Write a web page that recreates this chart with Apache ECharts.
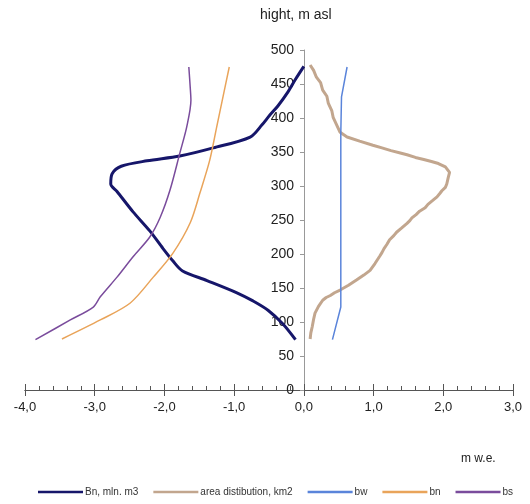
<!DOCTYPE html>
<html><head><meta charset="utf-8">
<script src="https://cdn.jsdelivr.net/npm/echarts@6/dist/echarts.min.js"></script>
<style>html,body{margin:0;padding:0;background:#fff}#c{width:530px;height:504px}</style>
</head><body><div id="c"></div>
<script>
// ---- data ----
var bnMlnX = [0.0, -0.12, -0.23, -0.37, -0.49, -0.6, -0.77, -1.3, -1.78, -2.25, -2.62, -2.75, -2.77, -2.68, -2.45, -2.21, -2.02, -1.88, -1.74, -1.39, -0.96, -0.73, -0.51, -0.3, -0.12];
var bnMlnY = [476, 457, 438, 418, 404, 390, 372, 356, 344, 337, 329, 318, 303, 292, 262, 234, 208, 190, 175, 161, 143, 131, 117, 97, 74];
var areaX = [0.09, 0.14, 0.18, 0.24, 0.27, 0.33, 0.35, 0.40, 0.42, 0.47, 0.52, 0.62, 0.80, 0.99, 1.12, 1.25, 1.37, 1.48, 1.60, 1.72, 1.83, 1.93, 2.03, 2.09, 2.07, 2.05, 2.03, 1.98, 1.95, 1.91, 1.84, 1.78, 1.74, 1.66, 1.61, 1.55, 1.52, 1.48, 1.40, 1.33, 1.29, 1.23, 1.19, 1.15, 1.12, 1.09, 1.02, 0.95, 0.86, 0.76, 0.64, 0.52, 0.44, 0.38, 0.32, 0.27, 0.21, 0.16, 0.14, 0.12, 0.10, 0.09];
var areaY = [478, 470, 460, 452, 441, 432, 422, 411, 401, 390, 379, 372, 366, 360, 356, 352, 349, 346, 342, 339, 336, 333, 328, 320, 312, 303, 298, 293, 289, 284, 278, 273, 268, 263, 258, 253, 249, 245, 238, 232, 227, 221, 214, 208, 202, 197, 186, 176, 169, 162, 154, 147, 143, 139, 136, 132, 123, 113, 104, 93, 84, 75];
var bwX = [0.62, 0.54, 0.53, 0.53, 0.41];
var bwY = [475, 431, 378, 122, 74];
var bnX = [-1.07, -1.16, -1.25, -1.35, -1.49, -1.63, -1.88, -2.16, -2.49, -2.92, -3.47];
var bnY = [475, 431, 387, 338, 290, 246, 201, 166, 128, 103, 75];
var bsX = [-1.65, -1.63, -1.62, -1.68, -1.78, -1.92, -2.06, -2.21, -2.45, -2.68, -2.92, -3.02, -3.35, -3.85];
var bsY = [475, 445, 426, 387, 348, 294, 254, 225, 196, 166, 137, 122, 103, 74];
var xTicks = [-4, -3, -2, -1, 0, 1, 2, 3];
var yTicks = [0, 50, 100, 150, 200, 250, 300, 350, 400, 450, 500];

function zip(a, b) { return a.map(function (v, i) { return [v, b[i]]; }); }
var FONT = "'Liberation Sans Narrow', 'Arial Narrow', 'Liberation Sans', sans-serif";

var chart = echarts.init(document.getElementById('c'));
var xBase = {
  type: 'value', min: xTicks[0], max: xTicks[xTicks.length - 1], interval: 1,
  position: 'bottom', splitLine: { show: false },
  axisLine: { onZero: false, lineStyle: { color: '#555', width: 1 } }
};
chart.setOption({
  animation: false,
  grid: { left: 25, right: 17, top: 50, bottom: 114 },
  xAxis: [
    Object.assign({}, xBase, {
      axisTick: { show: true, length: 6, lineStyle: { color: '#555' } },
      minorTick: { show: false },
      axisLabel: { color: '#222', fontSize: 13, fontFamily: FONT, margin: 11,
        formatter: function (v) { return v.toFixed(1).replace('.', ','); } }
    }),
    Object.assign({}, xBase, {
      axisTick: { show: true, inside: true, length: 6, lineStyle: { color: '#555' } },
      minorTick: { show: true, splitNumber: 5, length: 4, lineStyle: { color: '#555' } },
      axisLabel: { show: false }
    })
  ],
  yAxis: {
    type: 'value', min: yTicks[0], max: yTicks[yTicks.length - 1], interval: 50,
    position: 'left', offset: -279,
    splitLine: { show: false },
    axisLine: { show: true, onZero: false, lineStyle: { color: '#999' } },
    axisTick: { show: true, length: 4, lineStyle: { color: '#999' } },
    axisLabel: { color: '#222', fontSize: 14, fontFamily: FONT, margin: 10 }
  },
  legend: {
    left: 33, top: 482, icon: 'rect', itemWidth: 45, itemHeight: 2.5, itemGap: 15,
    textStyle: { fontSize: 10, fontFamily: FONT, color: '#333', padding: [0, 0, 0, -3] },
    data: ['Bn, mln. m3', 'area distibution, km2', 'bw', 'bn', 'bs']
  },
  graphic: [
    { type: 'text', left: 260, top: 8, style: { text: 'hight, m asl', fontSize: 14, fontFamily: FONT, fill: '#222' } },
    { type: 'text', left: 461, top: 453, style: { text: 'm w.e.', fontSize: 12, fontFamily: FONT, fill: '#222' } }
  ],
  series: [
    { name: 'Bn, mln. m3', type: 'line', data: zip(bnMlnX, bnMlnY), smooth: 0.3, symbol: 'none',
      lineStyle: { color: '#16166a', width: 3 }, itemStyle: { color: '#16166a' } },
    { name: 'area distibution, km2', type: 'line', data: zip(areaX, areaY), smooth: false, symbol: 'none',
      lineStyle: { color: '#c2a68e', width: 3 }, itemStyle: { color: '#c2a68e' } },
    { name: 'bw', type: 'line', data: zip(bwX, bwY), smooth: false, symbol: 'none',
      lineStyle: { color: '#5a84da', width: 1.5 }, itemStyle: { color: '#5a84da' } },
    { name: 'bn', type: 'line', data: zip(bnX, bnY), smooth: 0.3, symbol: 'none',
      lineStyle: { color: '#e9a45a', width: 1.5 }, itemStyle: { color: '#e9a45a' } },
    { name: 'bs', type: 'line', data: zip(bsX, bsY), smooth: 0.3, symbol: 'none',
      lineStyle: { color: '#7a4c9c', width: 1.5 }, itemStyle: { color: '#7a4c9c' } }
  ]
});
</script></body></html>
